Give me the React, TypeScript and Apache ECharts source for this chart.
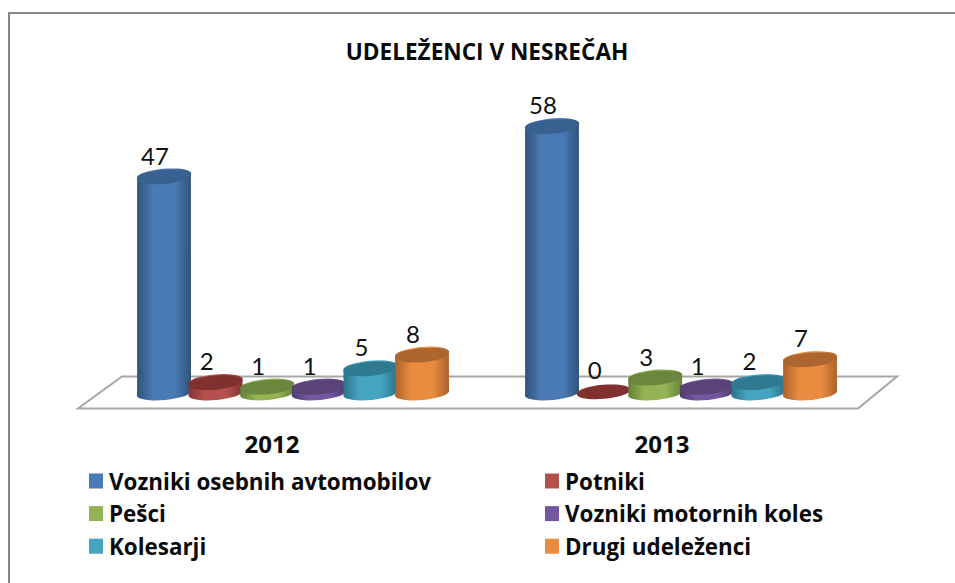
import React, { useEffect, useRef } from "react";
import * as echarts from "echarts";

const categories = ["2012", "2013"];
const seriesNames = ["Vozniki osebnih avtomobilov", "Potniki", "Pešci", "Vozniki motornih koles", "Kolesarji", "Drugi udeleženci"];
const vozniki = [47, 58];
const potniki = [2, 0];
const pesci = [1, 3];
const motoristi = [1, 1];
const kolesarji = [5, 2];
const drugi = [8, 7];
const seriesValues = [vozniki, potniki, pesci, motoristi, kolesarji, drugi];
const bodyColors = ["#4a7ab5", "#b5504d", "#93b354", "#7357a0", "#45a5c0", "#ea8c40"];
const edgeColors = ["#2f5379", "#823433", "#64803a", "#4f3a6e", "#2c7187", "#a9622b"];
const topColors = ["#38618f", "#7f302f", "#6b863d", "#5a4477", "#2f7a90", "#ad662f"];

const RX = 27;
const RY = 7;
const TILT_DEG = 5;
const TILT = (TILT_DEG * Math.PI) / 180;
const STEP = 51.6;

function renderCylinder(sIdx: number) {
  return (params: any, api: any) => {
    const cat = api.value(0);
    const val = api.value(1);
    const center = api.coord([cat, 0]);
    const top = api.coord([cat, val]);
    const cx = center[0] + (sIdx - 2.5) * STEP;
    const by = center[1];
    const ty = top[1];
    const dx = RX * Math.cos(TILT);
    const dy = RX * Math.sin(TILT);
    const d =
      `M ${cx - dx} ${ty + dy} L ${cx - dx} ${by + dy} ` +
      `A ${RX} ${RY} ${-TILT_DEG} 0 0 ${cx + dx} ${by - dy} ` +
      `L ${cx + dx} ${ty - dy} ` +
      `A ${RX} ${RY} ${-TILT_DEG} 0 0 ${cx - dx} ${ty + dy} Z`;
    const grad = new echarts.graphic.LinearGradient(0, 0, 1, 0, [
      { offset: 0, color: edgeColors[sIdx] },
      { offset: 0.3, color: bodyColors[sIdx] },
      { offset: 0.7, color: bodyColors[sIdx] },
      { offset: 1, color: edgeColors[sIdx] },
    ]);
    const children: any[] = [];
    if (val > 0) {
      children.push({ type: "path", shape: { pathData: d }, style: { fill: grad } });
    }
    children.push({
      type: "ellipse",
      shape: { cx: 0, cy: 0, rx: RX, ry: RY },
      x: cx,
      y: ty,
      rotation: TILT,
      style: { fill: topColors[sIdx] },
    });
    children.push({
      type: "text",
      x: cx - 9,
      y: ty - 22,
      style: {
        text: String(val),
        fill: "#111111",
        font: "24px Lato",
        textAlign: "center",
        textVerticalAlign: "middle",
      },
    });
    return { type: "group", children };
  };
}

export default function App() {
  const ref = useRef<HTMLDivElement>(null);
  useEffect(() => {
    const chart = echarts.init(ref.current!, undefined, { renderer: "svg" });
    const legendText = { fontFamily: "Open Sans", fontWeight: "bold", fontSize: 22.4, color: "#0a0a0a", padding: [0, 0, 0, 1] };
    chart.setOption({
      animation: false,
      backgroundColor: "#ffffff",
      title: {
        text: "UDELEŽENCI V NESREČAH",
        left: 482,
        top: 35,
        textAlign: "center",
        textStyle: { fontFamily: "Open Sans", fontWeight: "bold", fontSize: 22.6, color: "#0a0a0a" },
      },
      legend: [
        {
          orient: "vertical",
          left: 84,
          top: 465,
          itemWidth: 14,
          itemHeight: 15,
          itemGap: 10.6,
          icon: "rect",
          textStyle: legendText,
          data: [seriesNames[0], seriesNames[2], seriesNames[4]],
        },
        {
          orient: "vertical",
          left: 540,
          top: 465,
          itemWidth: 14,
          itemHeight: 15,
          itemGap: 10.6,
          icon: "rect",
          textStyle: legendText,
          data: [seriesNames[1], seriesNames[3], seriesNames[5]],
        },
      ],
      grid: [
        { left: 99, right: 80, top: 117.6, height: 274.2 },
        { left: 77, right: 98, top: 117.6, height: 274.2 },
      ],
      xAxis: [
        { type: "category", data: categories, gridIndex: 0, axisLine: { show: false }, axisTick: { show: false }, axisLabel: { show: false } },
        {
          type: "category",
          data: categories,
          gridIndex: 1,
          axisLine: { show: false },
          axisTick: { show: false },
          axisLabel: { margin: 40, fontFamily: "Open Sans", fontWeight: "bold", fontSize: 24, color: "#0a0a0a" },
        },
      ],
      yAxis: [
        { type: "value", min: 0, max: 60, gridIndex: 0, show: false },
        { type: "value", min: 0, max: 60, gridIndex: 1, show: false },
      ],
      graphic: [
        {
          type: "rect",
          shape: { x: 9, y: 13, width: 1000, height: 700 },
          style: { fill: "none", stroke: "#868686", lineWidth: 2 },
          z: 0,
        },
        {
          type: "polygon",
          shape: { points: [[78, 408.5], [858, 408.5], [897, 376.5], [122, 376.5]] },
          style: { fill: "none", stroke: "#a6a6a6", lineWidth: 2 },
          z: 0,
        },
      ],
      series: seriesNames.map((name, i) => ({
        name,
        type: "custom",
        xAxisIndex: 0,
        yAxisIndex: 0,
        z: 3,
        clip: false,
        itemStyle: { color: bodyColors[i] },
        renderItem: renderCylinder(i),
        encode: { x: 0, y: 1 },
        data: categories.map((_, c) => [c, seriesValues[i][c]]),
      })),
    });
    return () => chart.dispose();
  }, []);
  return <div ref={ref} style={{ position: "absolute", left: 0, top: 0, width: 955, height: 583 }} />;
}
